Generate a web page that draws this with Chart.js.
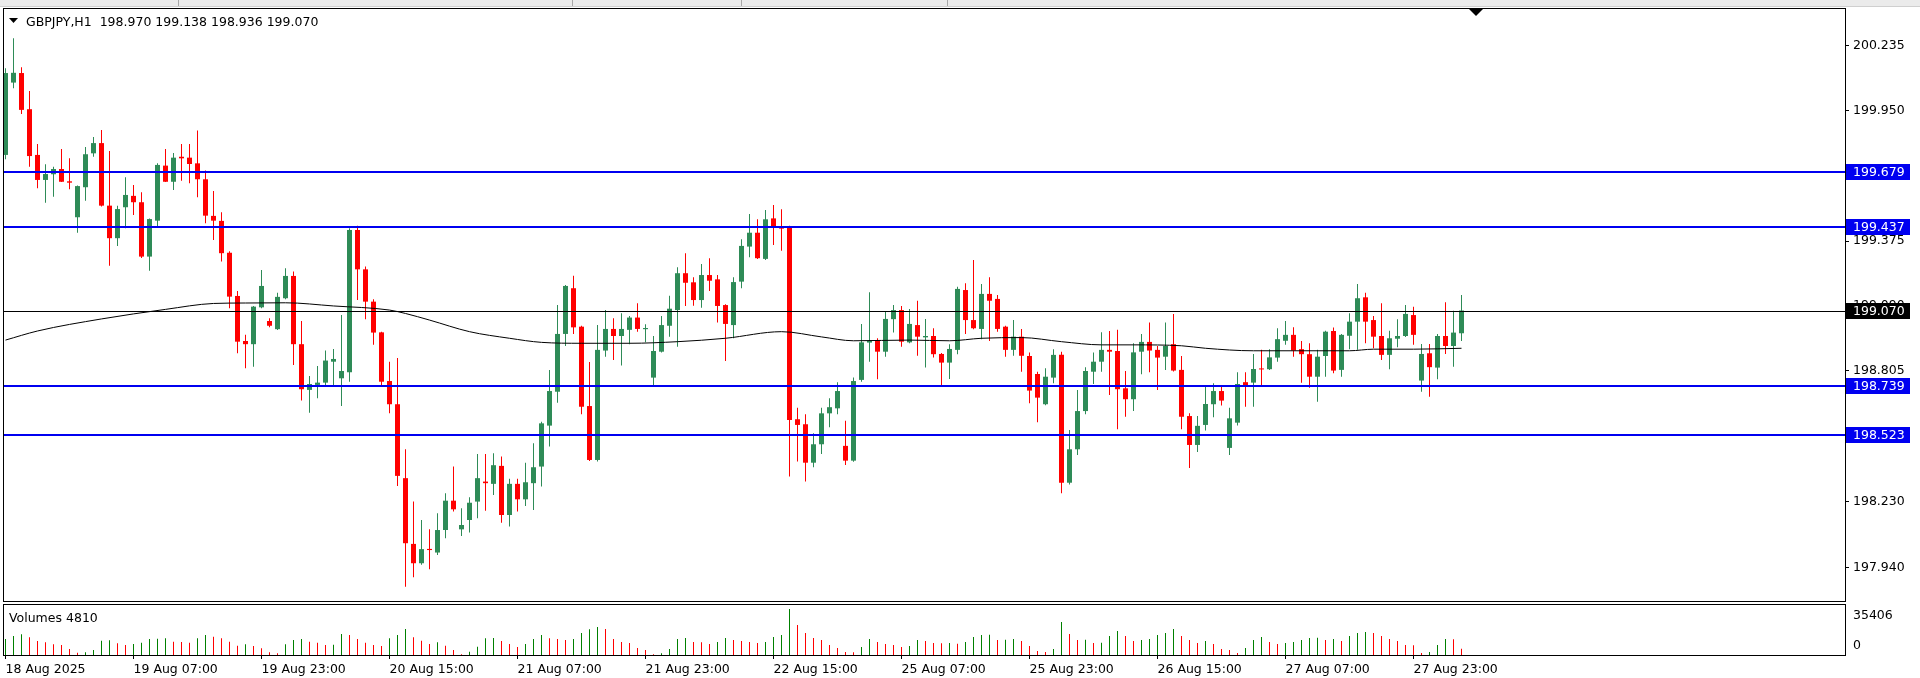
<!DOCTYPE html>
<html><head><meta charset="utf-8">
<script src="https://cdn.jsdelivr.net/npm/chart.js@4.4.1/dist/chart.umd.min.js"></script>
<style>
html,body{margin:0;padding:0;background:#fff;width:1920px;height:678px;overflow:hidden;}
#wrap{position:relative;width:1920px;height:678px;background:#fff;}
canvas{position:absolute;left:0;}
#c1{top:0}
#c2{top:603px}
.txt{position:absolute;font-family:"DejaVu Sans";font-size:12.5px;line-height:15px;color:#000;white-space:pre;}
#strip{position:absolute;left:0;top:0;width:1920px;height:6px;background:#ebebeb;border-bottom:1px solid #cfcfcf;}
.sep{position:absolute;top:0;width:1px;height:6px;background:#a8a8a8;}
</style></head>
<body><div id="wrap">
<canvas id="c1" width="1920" height="605"></canvas>
<canvas id="c2" width="1920" height="75"></canvas>
<div id="strip"></div>
<div class="sep" style="left:178px"></div><div class="sep" style="left:572px"></div><div class="sep" style="left:741px"></div><div class="sep" style="left:947px"></div>
<div class="txt" id="hdr" style="left:26px;top:14px"></div>
<div class="txt" id="vlab" style="left:9px;top:610px"></div>
</div>
<script>
const symbol = 'GBPJPY';
const timeframe = 'H1';
const tickLabels = ['18 Aug 2025','19 Aug 07:00','19 Aug 23:00','20 Aug 15:00','21 Aug 07:00','21 Aug 23:00','22 Aug 15:00','25 Aug 07:00','25 Aug 23:00','26 Aug 15:00','27 Aug 07:00','27 Aug 23:00'];
const labelEvery = 16;

const open = [
199.754,200.072,200.114,199.955,199.754,199.644,199.669,199.692,199.638,199.480,
199.612,199.761,199.806,199.531,199.388,199.524,199.574,199.546,199.307,199.465,
199.707,199.636,199.746,199.742,199.717,199.647,199.486,199.464,199.324,199.134,
198.936,198.922,199.084,199.024,198.988,199.124,199.222,198.922,198.721,198.743,
198.753,198.845,198.772,198.799,199.424,199.251,199.109,198.974,198.760,198.658,
198.333,198.044,197.959,198.022,198.006,198.105,198.234,198.108,198.149,198.230,
198.318,198.308,198.387,198.171,198.308,198.240,198.311,198.384,198.564,198.713,
198.967,199.168,198.999,198.650,198.413,198.894,198.989,198.958,198.985,199.039,
198.988,198.775,198.889,199.003,199.072,199.234,199.194,199.116,199.226,199.207,
199.094,199.006,199.197,199.351,199.412,199.297,199.475,199.439,199.439,198.592,
198.570,198.401,198.482,198.618,198.640,198.475,198.410,198.765,198.929,198.937,
198.889,199.032,199.072,198.930,199.006,198.952,198.958,198.879,198.841,198.897,
199.160,199.028,198.989,199.143,199.121,198.999,198.897,198.955,198.870,198.791,
198.658,198.775,198.875,198.313,198.460,198.628,198.801,198.845,198.897,198.892,
198.728,198.680,198.889,198.932,198.897,198.867,198.922,198.809,198.606,198.479,
198.567,198.658,198.716,198.466,198.577,198.755,198.753,198.812,198.812,198.863,
198.937,198.963,198.900,198.878,198.779,198.870,198.980,198.809,198.959,199.021,
199.128,199.028,198.958,198.875,198.946,198.958,199.050,198.762,198.882,198.819,
198.958,198.914,198.970];
const high = [
200.135,200.267,200.139,200.035,199.802,199.713,199.702,199.780,199.739,199.620,
199.789,199.833,199.864,199.771,199.531,199.656,199.622,199.590,199.475,199.717,
199.780,199.763,199.802,199.802,199.861,199.685,199.595,199.502,199.330,199.156,
198.963,199.090,199.248,199.036,199.148,199.256,199.241,199.024,198.782,198.826,
198.894,198.901,199.050,199.432,199.443,199.263,199.119,198.977,198.845,198.861,
198.460,198.230,198.149,198.108,198.179,198.267,198.384,198.201,198.249,198.439,
198.439,198.443,198.428,198.330,198.330,198.401,198.486,198.581,198.809,199.094,
199.182,199.223,199.003,198.844,199.006,199.072,199.036,199.058,199.046,199.102,
199.010,198.958,199.046,199.135,199.260,199.322,199.216,199.275,199.300,199.226,
199.098,199.216,199.383,199.494,199.471,199.512,199.534,199.515,199.443,198.643,
198.614,198.530,198.643,198.684,198.755,198.585,198.775,199.011,199.150,198.948,
199.068,199.094,199.090,199.077,199.113,199.033,198.992,198.883,198.922,199.175,
199.190,199.292,199.187,199.216,199.138,199.003,199.028,198.989,198.885,198.801,
198.816,198.900,198.889,198.545,198.721,198.821,198.885,198.974,198.980,198.985,
198.804,198.926,198.967,199.017,198.914,199.017,199.055,198.870,198.618,198.606,
198.738,198.750,198.738,198.642,198.799,198.799,198.879,198.897,198.900,198.992,
199.024,198.996,198.936,198.926,198.897,198.981,198.995,198.967,199.058,199.187,
199.148,199.046,199.102,198.981,199.032,199.094,199.087,198.923,198.923,198.967,
199.106,199.069,199.138];
const low = [
199.735,200.047,199.934,199.702,199.607,199.544,199.570,199.635,199.603,199.412,
199.553,199.746,199.527,199.267,199.354,199.432,199.490,199.301,199.245,199.442,
199.635,199.600,199.641,199.629,199.568,199.454,199.380,199.285,199.080,198.882,
198.816,198.823,199.080,198.996,198.984,199.120,198.831,198.674,198.621,198.684,
198.738,198.738,198.650,198.757,199.116,199.032,198.919,198.735,198.618,198.299,
197.856,197.897,197.952,197.933,197.995,198.069,198.186,198.079,198.094,198.157,
198.190,198.259,198.137,198.120,198.186,198.211,198.193,198.296,198.472,198.665,
198.914,198.967,198.614,198.409,198.406,198.867,198.853,198.828,198.922,198.977,
198.930,198.735,198.885,198.955,198.911,199.090,199.091,199.082,199.156,199.017,
198.848,198.948,199.168,199.304,199.296,199.292,199.358,199.333,198.340,198.406,
198.318,198.381,198.439,198.557,198.614,198.391,198.405,198.757,198.845,198.768,
198.867,198.973,198.911,198.926,198.871,198.819,198.864,198.740,198.769,198.878,
198.967,198.988,198.944,198.936,198.977,198.867,198.871,198.801,198.662,198.579,
198.654,198.750,198.267,198.305,198.435,198.614,198.747,198.801,198.699,198.548,
198.603,198.628,198.790,198.799,198.721,198.809,198.802,198.548,198.378,198.448,
198.542,198.601,198.652,198.435,198.564,198.647,198.647,198.738,198.809,198.845,
198.919,198.867,198.753,198.731,198.669,198.779,198.794,198.779,198.900,198.897,
198.926,198.904,198.853,198.812,198.908,198.954,198.919,198.713,198.691,198.768,
198.879,198.823,198.936];
const close = [
200.114,200.115,199.952,199.749,199.644,199.670,199.692,199.636,199.632,199.617,
199.757,199.806,199.531,199.388,199.516,199.578,199.546,199.307,199.472,199.710,
199.636,199.742,199.739,199.714,199.647,199.487,199.465,199.322,199.131,198.933,
198.922,199.087,199.178,199.003,199.130,199.222,198.922,198.724,198.747,198.753,
198.850,198.857,198.804,199.424,199.251,199.109,198.973,198.757,198.658,198.343,
198.047,197.959,198.021,198.017,198.105,198.234,198.196,198.127,198.225,198.333,
198.311,198.390,198.171,198.308,198.240,198.315,198.381,198.574,198.716,198.967,
199.178,198.996,198.647,198.413,198.897,198.989,198.958,198.989,199.039,198.989,
198.993,198.892,199.006,199.078,199.234,199.192,199.116,199.226,199.201,199.090,
199.011,199.195,199.354,199.412,199.300,199.471,199.436,199.430,198.589,198.567,
198.401,198.482,198.618,198.645,198.716,198.410,198.760,198.930,198.936,198.889,
199.033,199.072,198.933,199.011,198.955,198.958,198.878,198.841,198.901,199.165,
199.028,198.992,199.143,199.113,198.989,198.897,198.955,198.871,198.718,198.687,
198.779,198.875,198.313,198.460,198.628,198.804,198.845,198.897,198.889,198.724,
198.680,198.886,198.932,198.894,198.863,198.914,198.806,198.603,198.479,198.563,
198.659,198.716,198.674,198.596,198.747,198.738,198.813,198.811,198.864,198.944,
198.963,198.894,198.878,198.779,198.867,198.977,198.806,198.963,199.021,199.124,
199.021,198.955,198.875,198.948,198.958,199.055,198.963,198.879,198.821,198.958,
198.914,198.973,199.070];
const volume = [
12320,14630,15910,13600,10780,9750,8210,7700,4620,1800,
2050,3850,11030,11290,8980,7700,8470,9490,12320,12570,
12830,10260,10010,9490,12830,15400,14110,12830,10260,7190,
8210,6930,5130,2050,1280,8210,11550,12320,10260,9490,
7700,7960,16170,15400,12320,9490,7700,6930,12830,15400,
20020,13600,11030,8470,9750,7190,3850,510,2570,6420,
12830,13090,10780,8470,6160,8470,12320,15400,12830,12320,
11550,12320,16940,19760,21550,20020,12320,10010,9240,5390,
3850,510,1280,4620,12320,13090,10010,9750,8470,10010,
13090,11550,10780,10010,9240,10010,13860,15400,35406,23090,
16940,13090,11550,7700,5390,2310,2050,6160,12320,10010,
8470,7700,6160,6930,11550,10780,9240,8980,9240,8720,
10010,13860,15400,15650,11550,11800,12320,10780,6930,3080,
2310,4620,25400,16170,11550,11800,9240,9490,14630,18480,
14630,10780,11550,12320,15400,16940,20020,14630,11550,9240,
10780,8470,4620,3850,1540,5390,11550,13860,10010,8470,
9240,10010,11550,13090,13340,11550,12320,10780,14630,16940,
17710,16940,14630,12320,10780,7700,7440,1540,2310,7700,
12320,12060,4810];
const maBars = [0,4,12,20,26,30,35,41,48,50,53,58,63,67,72,78,84,90,97,102,106,113,118,122,127,132,137,141,147,150,156,161,168,171,176,182];
const maValues = [198.940,198.980,199.033,199.075,199.101,199.103,199.104,199.090,199.072,199.057,199.028,198.977,198.948,198.930,198.926,198.926,198.933,198.948,198.977,198.954,198.937,198.940,198.937,198.948,198.951,198.933,198.919,198.919,198.915,198.904,198.893,198.893,198.893,198.900,198.900,198.904];
const levels = [199.679, 199.437, 198.739, 198.523];
const priceTicks = [200.235, 199.950, 199.665, 199.375, 199.090, 198.805, 198.520, 198.230, 197.940];
const priceMin = 197.793, priceMax = 200.3955;

const GREEN = '#2e8b57', RED = '#ff0000', VGREEN = '#008000', VRED = '#ff0000', LEVEL = '#0000f0';
const FONT = {family: 'DejaVu Sans', size: 12.5};
const FONTSTR = '12.5px "DejaVu Sans"';
const n = open.length;
const last = n - 1;
const lastPrice = close[last];
const idx = open.map((_, i) => i);
const xMin = -0.1875, xMax = xMin + 1841 / 8;

document.getElementById('hdr').textContent = symbol + ',' + timeframe + '  ' + [open[last], high[last], low[last], close[last]].map(v => v.toFixed(3)).join(' ');
document.getElementById('vlab').textContent = 'Volumes ' + volume[last];

const candleColor = ctx => { const i = ctx.dataIndex; if (i == null) return GREEN; return close[i] >= open[i] ? GREEN : RED; };
const volColor = ctx => { const i = ctx.dataIndex; if (i == null) return VGREEN; return (i === 0 || volume[i] > volume[i - 1]) ? VGREEN : VRED; };

const overlay = {
  id: 'overlay',
  afterDatasetsDraw(chart) {
    const {ctx, chartArea: a, scales: {y}} = chart;
    ctx.save();
    ctx.beginPath(); ctx.rect(a.left, a.top, a.right - a.left, a.bottom - a.top); ctx.clip();
    ctx.fillStyle = LEVEL;
    levels.forEach(v => { const py = Math.round(y.getPixelForValue(v)); ctx.fillRect(a.left, py - 1, a.right - a.left, 2); });
    ctx.fillStyle = '#000';
    const pl = Math.round(y.getPixelForValue(lastPrice));
    ctx.fillRect(a.left, pl, a.right - a.left, 1);
    ctx.restore();
  },
  afterDraw(chart) {
    const {ctx, chartArea: a, scales: {y}} = chart;
    ctx.save();
    ctx.strokeStyle = '#000'; ctx.lineWidth = 1;
    ctx.strokeRect(a.left - 0.5, a.top - 0.5, a.right - a.left + 1, a.bottom - a.top + 1);
    ctx.font = FONTSTR; ctx.textBaseline = 'middle'; ctx.textAlign = 'left';
    const box = (v, bg) => {
      const py = Math.round(y.getPixelForValue(v));
      ctx.fillStyle = bg; ctx.fillRect(a.right + 1, py - 8, 64, 16);
      ctx.fillStyle = '#fff'; ctx.fillText(v.toFixed(3), a.right + 8, py + 0.5);
    };
    levels.forEach(v => box(v, LEVEL));
    box(lastPrice, '#000');
    ctx.fillStyle = '#000';
    ctx.beginPath(); ctx.moveTo(9, 18); ctx.lineTo(18, 18); ctx.lineTo(13.5, 23); ctx.closePath(); ctx.fill();
    ctx.beginPath(); ctx.moveTo(1469, a.top); ctx.lineTo(1483, a.top); ctx.lineTo(1476, a.top + 7); ctx.closePath(); ctx.fill();
    ctx.restore();
  }
};

new Chart(document.getElementById('c1'), {
  type: 'bar',
  data: {datasets: [
    {type: 'line', data: maBars.map((b, k) => ({x: b, y: maValues[k]})), borderColor: '#000', borderWidth: 1, pointRadius: 0, cubicInterpolationMode: 'monotone', order: 0},
    {data: idx.map(i => ({x: i, y: [open[i], close[i]]})), backgroundColor: candleColor, barThickness: 5, minBarLength: 1, grouped: false, inflateAmount: 0, borderWidth: 0, order: 1},
    {data: idx.map(i => ({x: i, y: [low[i], high[i]]})), backgroundColor: candleColor, barThickness: 1, grouped: false, inflateAmount: 0, borderWidth: 0, order: 2}
  ]},
  options: {
    responsive: false, animation: false, devicePixelRatio: 1,
    layout: {padding: {left: 4, top: 9, right: 0, bottom: 4}},
    plugins: {legend: {display: false}, tooltip: {enabled: false}},
    scales: {
      x: {type: 'linear', display: false, min: xMin, max: xMax, offset: false, grid: {offset: false}},
      y: {position: 'right', min: priceMin, max: priceMax, beginAtZero: false,
          afterBuildTicks: s => { s.ticks = priceTicks.map(v => ({value: v})); },
          afterFit: s => { s.width = 75; s.paddingTop = 0; s.paddingBottom = 0; },
          ticks: {callback: v => Number(v).toFixed(3), color: '#000', font: FONT, padding: 4, autoSkip: false},
          grid: {drawOnChartArea: false, drawTicks: true, tickLength: 4, color: '#000'},
          border: {display: false}}
    }
  },
  plugins: [overlay]
});

const volOverlay = {
  id: 'volOverlay',
  afterDraw(chart) {
    const {ctx, chartArea: a, scales: {y}} = chart;
    ctx.save();
    ctx.strokeStyle = '#000'; ctx.lineWidth = 1;
    ctx.strokeRect(a.left - 0.5, a.top - 0.5, a.right - a.left + 1, a.bottom - a.top + 1);
    ctx.fillStyle = '#000'; ctx.font = FONTSTR; ctx.textAlign = 'left';
    const vmax = Math.max(...volume);
    ctx.textBaseline = 'top'; ctx.fillText(String(vmax), a.right + 8, y.getPixelForValue(vmax));
    ctx.textBaseline = 'bottom'; ctx.fillText('0', a.right + 8, y.getPixelForValue(0) - 3);
    ctx.restore();
  }
};

new Chart(document.getElementById('c2'), {
  type: 'bar',
  data: {datasets: [
    {data: idx.map(i => ({x: i, y: volume[i]})), backgroundColor: volColor, barThickness: 1, grouped: false, inflateAmount: 0, borderWidth: 0}
  ]},
  options: {
    responsive: false, animation: false, devicePixelRatio: 1,
    layout: {padding: {left: 4, top: 2, right: 0, bottom: 0}},
    plugins: {legend: {display: false}, tooltip: {enabled: false}},
    scales: {
      x: {type: 'linear', min: xMin, max: xMax, offset: false,
          afterBuildTicks: s => { s.ticks = tickLabels.map((_, k) => ({value: k * labelEvery})); },
          afterFit: s => { s.height = 23; s.paddingLeft = 0; s.paddingRight = 0; },
          ticks: {callback: (v, k) => tickLabels[k], align: 'start', maxRotation: 0, minRotation: 0, autoSkip: false, color: '#000', font: FONT, padding: 3},
          grid: {drawOnChartArea: false, drawTicks: true, tickLength: 4, color: '#000', offset: false},
          border: {display: true, color: '#000'}},
      y: {position: 'right', min: 0, max: Math.max(...volume) * 50 / 46, beginAtZero: true,
          afterFit: s => { s.width = 75; s.paddingTop = 0; s.paddingBottom = 0; },
          ticks: {display: false}, grid: {display: false}, border: {display: false}}
    }
  },
  plugins: [volOverlay]
});
</script>
</body></html>
